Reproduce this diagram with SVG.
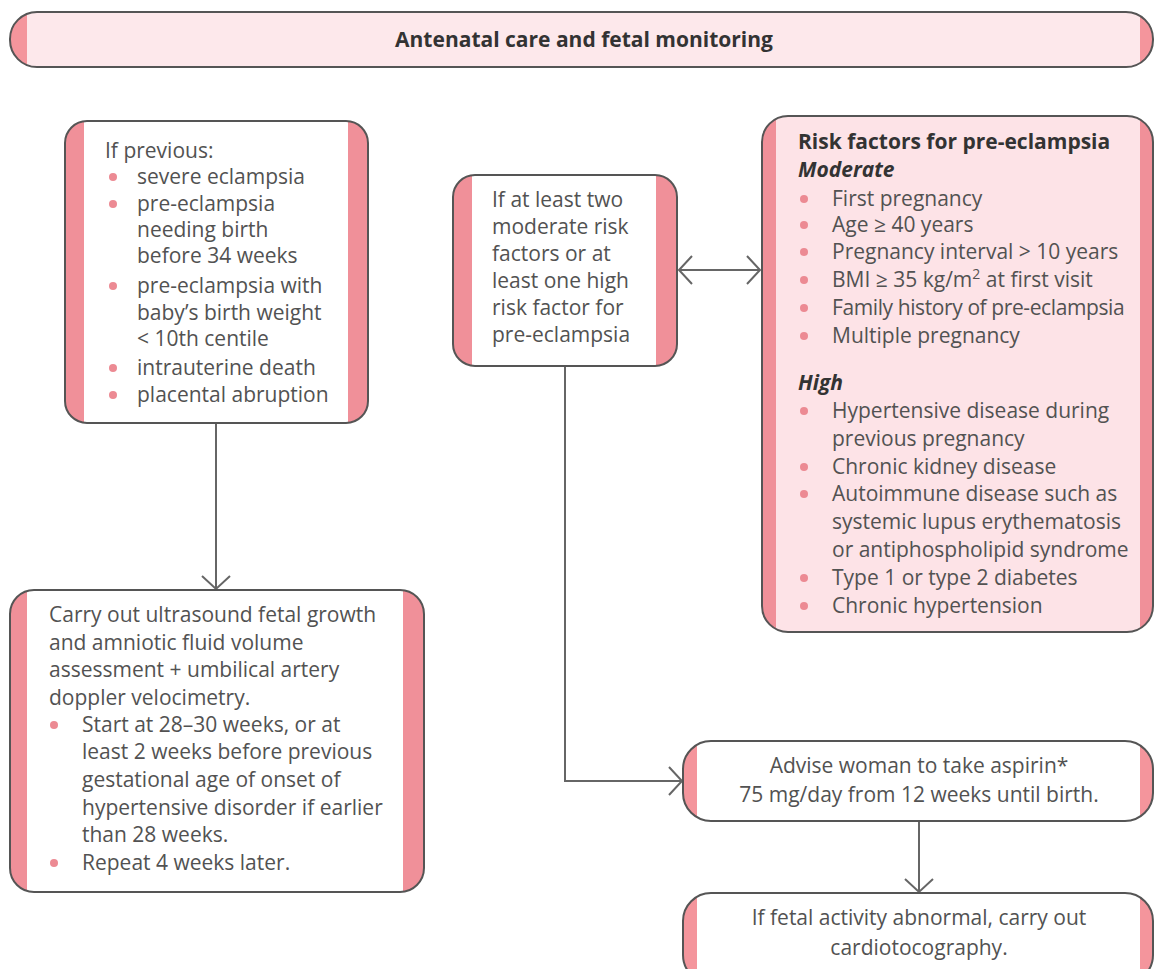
<svg xmlns="http://www.w3.org/2000/svg" width="1155" height="969" viewBox="0 0 1155 969">
  <style>
    .box { stroke: #555; stroke-width: 2; }
    .txt { font-family: "Open Sans", "Liberation Sans", sans-serif; font-size: 21px; fill: #525252; }
    .bold { font-weight: bold; fill: #333; }
    .mid { text-anchor: middle; }
    .dot { fill: #ec8a93; }
    .link { fill: none; stroke: #666; stroke-width: 2; }
  </style>
  <defs>
    <marker id="chev" viewBox="0 0 16 30" refX="14" refY="15" markerWidth="16" markerHeight="30" markerUnits="userSpaceOnUse" orient="auto-start-reverse">
      <path d="M1,1 L14,15 L1,29" fill="none" stroke="#666" stroke-width="2"/>
    </marker>
    <!-- side stripes: pink edges with a white or blush centre -->
    <linearGradient id="gTitle" x1="0" x2="1" y1="0" y2="0">
      <stop offset="0" stop-color="#f4959c"/><stop offset="0.0149" stop-color="#f4959c"/>
      <stop offset="0.0149" stop-color="#fde8eb"/><stop offset="0.9886" stop-color="#fde8eb"/>
      <stop offset="0.9886" stop-color="#f4959c"/><stop offset="1" stop-color="#f4959c"/>
    </linearGradient>
    <linearGradient id="gPrev" x1="0" x2="1" y1="0" y2="0">
      <stop offset="0" stop-color="#f09099"/><stop offset="0.063" stop-color="#f09099"/>
      <stop offset="0.063" stop-color="#fff"/><stop offset="0.934" stop-color="#fff"/>
      <stop offset="0.934" stop-color="#f09099"/><stop offset="1" stop-color="#f09099"/>
    </linearGradient>
    <linearGradient id="gMid" x1="0" x2="1" y1="0" y2="0">
      <stop offset="0" stop-color="#f09099"/><stop offset="0.085" stop-color="#f09099"/>
      <stop offset="0.085" stop-color="#fff"/><stop offset="0.906" stop-color="#fff"/>
      <stop offset="0.906" stop-color="#f09099"/><stop offset="1" stop-color="#f09099"/>
    </linearGradient>
    <linearGradient id="gRisk" x1="0" x2="1" y1="0" y2="0">
      <stop offset="0" stop-color="#f09099"/><stop offset="0.036" stop-color="#f09099"/>
      <stop offset="0.036" stop-color="#fde3e7"/><stop offset="0.967" stop-color="#fde3e7"/>
      <stop offset="0.967" stop-color="#f09099"/><stop offset="1" stop-color="#f09099"/>
    </linearGradient>
    <linearGradient id="gScan" x1="0" x2="1" y1="0" y2="0">
      <stop offset="0" stop-color="#f09099"/><stop offset="0.041" stop-color="#f09099"/>
      <stop offset="0.041" stop-color="#fff"/><stop offset="0.949" stop-color="#fff"/>
      <stop offset="0.949" stop-color="#f09099"/><stop offset="1" stop-color="#f09099"/>
    </linearGradient>
    <linearGradient id="gWide" x1="0" x2="1" y1="0" y2="0">
      <stop offset="0" stop-color="#f4959c"/><stop offset="0.030" stop-color="#f4959c"/>
      <stop offset="0.030" stop-color="#fff"/><stop offset="0.972" stop-color="#fff"/>
      <stop offset="0.972" stop-color="#f4959c"/><stop offset="1" stop-color="#f4959c"/>
    </linearGradient>
  </defs>

  <rect width="1155" height="969" fill="#fff"/>

  <!-- connectors -->
  <g id="connectors">
    <line class="link" x1="216" y1="424" x2="216" y2="589" marker-end="url(#chev)"/>
    <line class="link" x1="679" y1="270" x2="760" y2="270" marker-start="url(#chev)" marker-end="url(#chev)"/>
    <polyline class="link" points="565,366 565,781 682,781" marker-end="url(#chev)"/>
    <line class="link" x1="919" y1="821" x2="919" y2="892" marker-end="url(#chev)"/>
  </g>

  <g id="title">
    <rect class="box" x="10" y="12" width="1143" height="55" rx="27" fill="url(#gTitle)"/>
    <text class="txt bold mid" x="584" y="47" font-size="22">Antenatal care and fetal monitoring</text>
  </g>

  <g id="previous">
    <rect class="box" x="65" y="121" width="303" height="302" rx="22" fill="url(#gPrev)"/>
    <text class="txt" x="105" y="158">If previous:</text>
    <circle class="dot" cx="113" cy="177" r="4"/>
    <circle class="dot" cx="113" cy="204" r="4"/>
    <circle class="dot" cx="113" cy="286" r="4"/>
    <circle class="dot" cx="113" cy="368" r="4"/>
    <circle class="dot" cx="113" cy="395" r="4"/>
    <text class="txt" x="137" y="184">severe eclampsia</text>
    <text class="txt" x="137" y="211">pre-eclampsia</text>
    <text class="txt" x="137" y="237">needing birth</text>
    <text class="txt" x="137" y="263">before 34 weeks</text>
    <text class="txt" x="137" y="293">pre-eclampsia with</text>
    <text class="txt" x="137" y="320">baby’s birth weight</text>
    <text class="txt" x="137" y="346">&lt; 10th centile</text>
    <text class="txt" x="137" y="375">intrauterine death</text>
    <text class="txt" x="137" y="402">placental abruption</text>
  </g>

  <g id="threshold">
    <rect class="box" x="453" y="175" width="224" height="191" rx="22" fill="url(#gMid)"/>
    <text class="txt" x="492" y="207">If at least two</text>
    <text class="txt" x="492" y="234">moderate risk</text>
    <text class="txt" x="492" y="261">factors or at</text>
    <text class="txt" x="492" y="288">least one high</text>
    <text class="txt" x="492" y="315">risk factor for</text>
    <text class="txt" x="492" y="342">pre-eclampsia</text>
  </g>

  <g id="risk-factors">
    <rect class="box" x="762" y="116" width="391" height="516" rx="26" fill="url(#gRisk)"/>
    <text class="txt bold" x="798" y="149">Risk factors for pre-eclampsia</text>
    <text class="txt bold" x="798" y="177" font-style="italic">Moderate</text>
    <g>
      <circle class="dot" cx="804" cy="199" r="4"/>
      <circle class="dot" cx="804" cy="225" r="4"/>
      <circle class="dot" cx="804" cy="252" r="4"/>
      <circle class="dot" cx="804" cy="280" r="4"/>
      <circle class="dot" cx="804" cy="308" r="4"/>
      <circle class="dot" cx="804" cy="336" r="4"/>
    </g>
    <text class="txt" x="832" y="206">First pregnancy</text>
    <text class="txt" x="832" y="232">Age ≥ 40 years</text>
    <text class="txt" x="832" y="259">Pregnancy interval &gt; 10 years</text>
    <text class="txt" x="832" y="287">BMI ≥ 35 kg/m<tspan dy="-8" font-size="14">2</tspan><tspan dy="8"> at first visit</tspan></text>
    <text class="txt" x="832" y="315" letter-spacing="-0.4">Family history of pre-eclampsia</text>
    <text class="txt" x="832" y="343">Multiple pregnancy</text>
    <text class="txt bold" x="798" y="390" font-style="italic">High</text>
    <g>
      <circle class="dot" cx="804" cy="411" r="4"/>
      <circle class="dot" cx="804" cy="467" r="4"/>
      <circle class="dot" cx="804" cy="494" r="4"/>
      <circle class="dot" cx="804" cy="578" r="4"/>
      <circle class="dot" cx="804" cy="606" r="4"/>
    </g>
    <text class="txt" x="832" y="418">Hypertensive disease during</text>
    <text class="txt" x="832" y="446">previous pregnancy</text>
    <text class="txt" x="832" y="474">Chronic kidney disease</text>
    <text class="txt" x="832" y="501">Autoimmune disease such as</text>
    <text class="txt" x="832" y="529">systemic lupus erythematosis</text>
    <text class="txt" x="832" y="557">or antiphospholipid syndrome</text>
    <text class="txt" x="832" y="585">Type 1 or type 2 diabetes</text>
    <text class="txt" x="832" y="613">Chronic hypertension</text>
  </g>

  <g id="scan">
    <rect class="box" x="10" y="590" width="414" height="302" rx="24" fill="url(#gScan)"/>
    <text class="txt" x="49" y="622">Carry out ultrasound fetal growth</text>
    <text class="txt" x="49" y="650">and amniotic fluid volume</text>
    <text class="txt" x="49" y="677">assessment + umbilical artery</text>
    <text class="txt" x="49" y="705">doppler velocimetry.</text>
    <circle class="dot" cx="54" cy="725" r="4"/>
    <circle class="dot" cx="54" cy="863" r="4"/>
    <text class="txt" x="82" y="732">Start at 28–30 weeks, or at</text>
    <text class="txt" x="82" y="759">least 2 weeks before previous</text>
    <text class="txt" x="82" y="787">gestational age of onset of</text>
    <text class="txt" x="82" y="815">hypertensive disorder if earlier</text>
    <text class="txt" x="82" y="842">than 28 weeks.</text>
    <text class="txt" x="82" y="870">Repeat 4 weeks later.</text>
  </g>

  <g id="aspirin">
    <rect class="box" x="683" y="741" width="470" height="80" rx="28" fill="url(#gWide)"/>
    <text class="txt mid" x="919" y="773">Advise woman to take aspirin*</text>
    <text class="txt mid" x="919" y="802">75 mg/day from 12 weeks until birth.</text>
  </g>

  <g id="ctg">
    <rect class="box" x="683" y="893" width="470" height="90" rx="28" fill="url(#gWide)"/>
    <text class="txt mid" x="919" y="925">If fetal activity abnormal, carry out</text>
    <text class="txt mid" x="919" y="955">cardiotocography.</text>
  </g>
</svg>
